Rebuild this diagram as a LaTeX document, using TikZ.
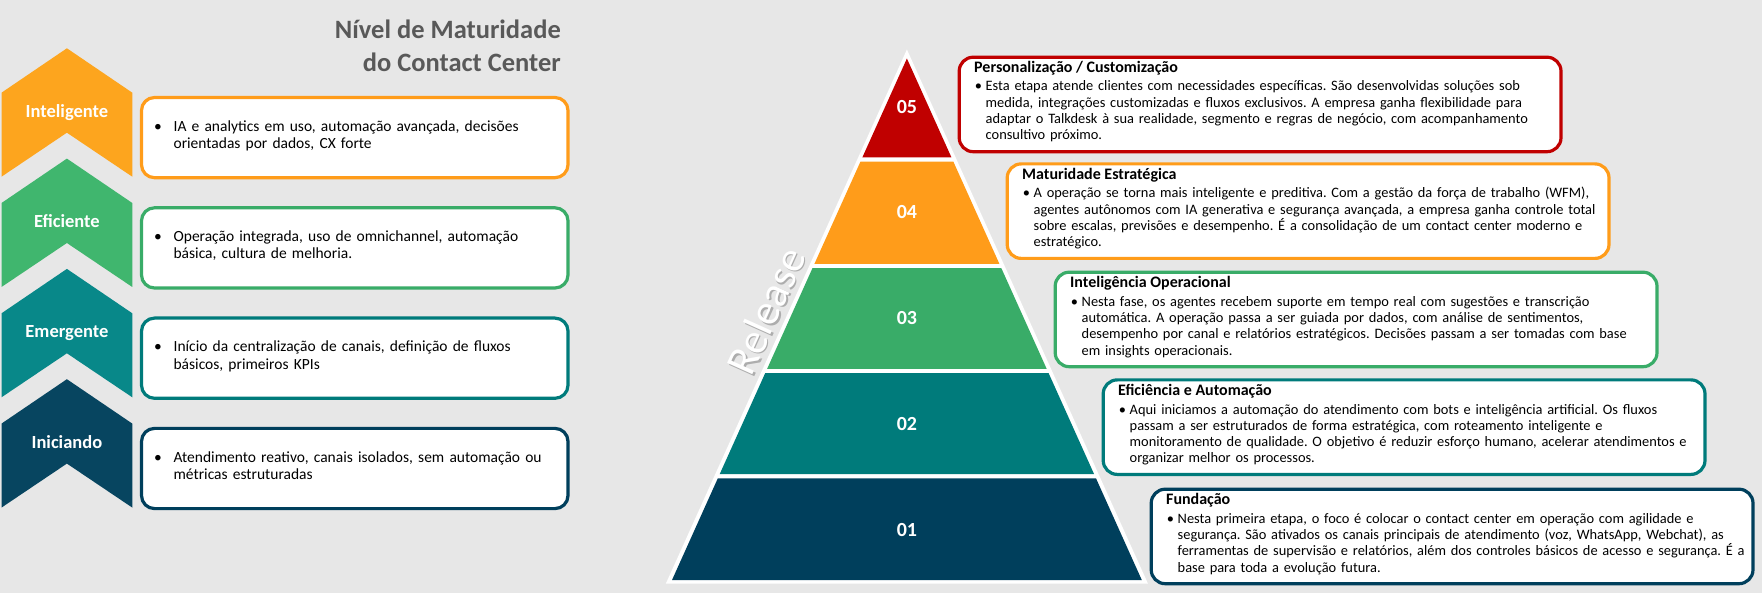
\documentclass[tikz,border=0pt]{standalone}
\usepackage{fontspec}
\setmainfont{Carlito}
\frenchspacing

% palette
\definecolor{pagebg}{RGB}{231,231,231}
\definecolor{headgray}{RGB}{89,89,89}
\definecolor{chevorange}{RGB}{253,165,30}
\definecolor{chevgreen}{RGB}{64,182,110}
\definecolor{chevteal}{RGB}{8,136,137}
\definecolor{chevnavy}{RGB}{7,69,96}
\definecolor{lvred}{RGB}{192,0,0}
\definecolor{lvorange}{RGB}{255,156,26}
\definecolor{lvgreen}{RGB}{57,172,104}
\definecolor{lvteal}{RGB}{0,123,123}
\definecolor{lvnavy}{RGB}{0,63,92}

\begin{document}
\begin{tikzpicture}[x=1pt,y=-1pt,
  headline/.style={anchor=base east,inner sep=0pt,text=headgray,font=\fontsize{26.5}{33}\selectfont\bfseries},
  chevlabel/.style={anchor=base,inner sep=0pt,text=white,font=\fontsize{18.5}{22}\selectfont\bfseries},
  lbox/.style={draw,line width=3.2pt,rounded corners=13pt,fill=white,anchor=north west,inner sep=0pt,
    minimum width=426.5pt,minimum height=80.2pt},
  ldot/.style={anchor=base,inner sep=0pt,font=\fontsize{15.5}{17.5}\selectfont},
  ltext/.style={anchor=base west,inner sep=0pt,text width=420pt,align=left,font=\fontsize{15.5}{17.4}\selectfont},
  rbox/.style={draw,line width=3.2pt,rounded corners=14pt,fill=white,anchor=north west,inner sep=0pt,
    minimum width=601.8pt,minimum height=94.5pt},
  rtitle/.style={anchor=base west,inner sep=0pt,font=\fontsize{16}{18}\selectfont\bfseries},
  rdot/.style={anchor=base,inner sep=0pt,font=\fontsize{14.4}{16.3}\selectfont},
  rtext/.style={anchor=base west,inner sep=0pt,text width=640pt,align=left,font=\fontsize{14.4}{16.3}\selectfont},
  pyrlabel/.style={anchor=base,inner sep=0pt,text=white,font=\fontsize{20}{24}\selectfont\bfseries},
  sidelabel/.style={inner sep=0pt,rotate=65.8,font=\fontsize{43}{50}\selectfont}
]
% canvas
\fill[pagebg] (0,0) rectangle (1762,593);
\useasboundingbox (0,0) rectangle (1762,593);

% heading
\node[headline] (headA) at (561,38.3) {Nível de Maturidade};
\node[headline] (headB) at (561,71.7) {do Contact Center};

% chevron column
\foreach \ty/\col in {48.3/chevorange,158.6/chevgreen,268.9/chevteal,379.2/chevnavy}{
  \fill[\col] (1.5,\ty+44.4) -- (66.9,\ty) -- (132.3,\ty+44.4) -- (132.3,\ty+128.4)
    -- (66.9,\ty+84.4) -- (1.5,\ty+128.4) -- cycle;
}
\node[chevlabel] (chevInt) at (66.9,117.3) {Inteligente};
\node[chevlabel] (chevEfi) at (66.9,227.6) {Eficiente};
\node[chevlabel] (chevEme) at (66.9,337.9) {Emergente};
\node[chevlabel] (chevIni) at (66.9,448.2) {Iniciando};

% description boxes beside the chevrons
\node[lbox,draw=lvorange] (boxInt) at (139.9,95.9) {};
\node[ldot] (dotInt) at (158,131.3) {\textbullet};
\node[ltext] (txtInt) at (173.4,131.3) {IA e analytics em uso, automação avançada, decisões\\orientadas por dados, CX forte};

\node[lbox,draw=lvgreen] (boxEfi) at (139.9,206.2) {};
\node[ldot] (dotEfi) at (158,241.6) {\textbullet};
\node[ltext] (txtEfi) at (173.4,241.6) {Operação integrada, uso de omnichannel, automação\\básica, cultura de melhoria.};

\node[lbox,draw=lvteal] (boxEme) at (139.9,316.5) {};
\node[ldot] (dotEme) at (158,351.9) {\textbullet};
\node[ltext] (txtEme) at (173.4,351.9) {Início da centralização de canais, definição de fluxos\\básicos, primeiros KPIs};

\node[lbox,draw=lvnavy] (boxIni) at (139.9,426.8) {};
\node[ldot] (dotIni) at (158,462.2) {\textbullet};
\node[ltext] (txtIni) at (173.4,462.2) {Atendimento reativo, canais isolados, sem automação ou\\métricas estruturadas};

% side caption along the pyramid edge, with its soft shadow
\node[sidelabel,text=black,opacity=0.25] (releaseShadow) at (767.4,312.4) {Release};
\node[sidelabel,text=white] (release) at (765.8,310.8) {Release};

% pyramid: white frame, then the five coloured tiers
\fill[white] (906.9,49.5) -- (1147.9,583.5) -- (665.9,583.5) -- cycle;
\foreach \ya/\yb/\col in {58.5/157.4/lvred,161.6/263.9/lvorange,268.1/368.9/lvgreen,373.1/474.2/lvteal,478.4/580/lvnavy}{
  \pgfmathsetmacro\ha{0.4504*(\ya-58.5)}
  \pgfmathsetmacro\hb{0.4504*(\yb-58.5)}
  \fill[\col] (906.9-\ha,\ya) -- (906.9+\ha,\ya) -- (906.9+\hb,\yb) -- (906.9-\hb,\yb) -- cycle;
}
\node[pyrlabel] (lv5) at (906.9,113.1) {05};
\node[pyrlabel] (lv4) at (906.9,218.7) {04};
\node[pyrlabel] (lv3) at (906.9,324.4) {03};
\node[pyrlabel] (lv2) at (906.9,430.4) {02};
\node[pyrlabel] (lv1) at (906.9,536.1) {01};

% level 05
\node[rbox,draw=lvred] (box5) at (957.6,55.6) {};
\node[rtitle] (ttl5) at (974,72.3) {Personalização / Customização};
\node[rdot] (dot5) at (978.5,91) {\textbullet};
\node[rtext] (txt5) at (985.5,91) {Esta etapa atende clientes com necessidades específicas. São desenvolvidas soluções sob\\medida, integrações customizadas e fluxos exclusivos. A empresa ganha flexibilidade para\\adaptar o Talkdesk à sua realidade, segmento e regras de negócio, com acompanhamento\\consultivo próximo.};

% level 04
\node[rbox,draw=lvorange] (box4) at (1005.6,162.3) {};
\node[rtitle] (ttl4) at (1022,179.3) {Maturidade Estratégica};
\node[rdot] (dot4) at (1026.5,198) {\textbullet};
\node[rtext] (txt4) at (1033.5,198) {A operação se torna mais inteligente e preditiva. Com a gestão da força de trabalho (WFM),\\agentes autônomos com IA generativa e segurança avançada, a empresa ganha controle total\\sobre escalas, previsões e desempenho. É a consolidação de um contact center moderno e\\estratégico.};

% level 03
\node[rbox,draw=lvgreen] (box3) at (1053.6,270.6) {};
\node[rtitle] (ttl3) at (1070,287.6) {Inteligência Operacional};
\node[rdot] (dot3) at (1074.5,306.3) {\textbullet};
\node[rtext] (txt3) at (1081.5,306.3) {Nesta fase, os agentes recebem suporte em tempo real com sugestões e transcrição\\automática. A operação passa a ser guiada por dados, com análise de sentimentos,\\desempenho por canal e relatórios estratégicos. Decisões passam a ser tomadas com base\\em insights operacionais.};

% level 02
\node[rbox,draw=lvteal] (box2) at (1101.6,378.3) {};
\node[rtitle] (ttl2) at (1118,395.3) {Eficiência e Automação};
\node[rdot] (dot2) at (1122.5,414) {\textbullet};
\node[rtext] (txt2) at (1129.5,414) {Aqui iniciamos a automação do atendimento com bots e inteligência artificial. Os fluxos\\passam a ser estruturados de forma estratégica, com roteamento inteligente e\\monitoramento de qualidade. O objetivo é reduzir esforço humano, acelerar atendimentos e\\organizar melhor os processos.};

% level 01
\node[rbox,draw=lvnavy] (box1) at (1149.6,487.6) {};
\node[rtitle] (ttl1) at (1166,504.3) {Fundação};
\node[rdot] (dot1) at (1170.5,523.3) {\textbullet};
\node[rtext] (txt1) at (1177.5,523.3) {Nesta primeira etapa, o foco é colocar o contact center em operação com agilidade e\\segurança. São ativados os canais principais de atendimento (voz, WhatsApp, Webchat), as\\ferramentas de supervisão e relatórios, além dos controles básicos de acesso e segurança. É a\\base para toda a evolução futura.};
\end{tikzpicture}
\end{document}
